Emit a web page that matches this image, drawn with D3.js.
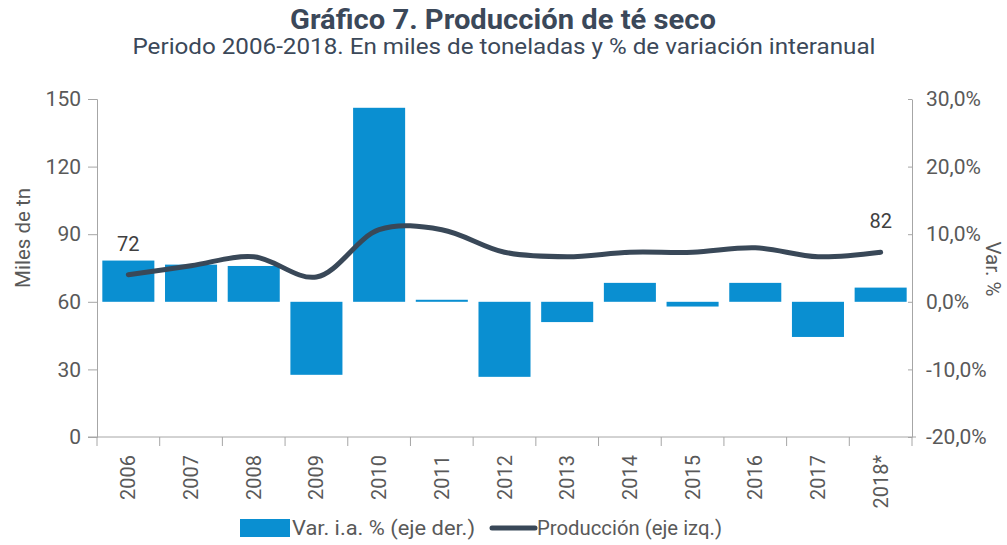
<!DOCTYPE html>
<html><head><meta charset="utf-8">
<script src="https://cdn.jsdelivr.net/npm/d3@7"></script>
<style>body{margin:0;background:#fff;} svg{display:block;font-family:Roboto, "Open Sans", sans-serif;}</style>
</head><body>
<svg id="chart" width="1007" height="545"></svg>
<script>
const categories = ["2006","2007","2008","2009","2010","2011","2012","2013","2014","2015","2016","2017","2018*"];
const variation = [6.1, 5.5, 5.3, -10.8, 28.7, 0.3, -11.1, -3.0, 2.8, -0.7, 2.8, -5.2, 2.1];
const production = [72, 76, 80, 71, 92, 92, 82, 80, 82, 82, 84, 80, 82];
const leftTicks = [0, 30, 60, 90, 120, 150];
const rightTicks = [-20, -10, 0, 10, 20, 30];
const labelled = {"2006": 72, "2018*": 82};

const svg = d3.select("#chart");
const L = 97, R = 912, T = 99, B = 437;
const textCol = "#595959", axisCol = "#a6a6a6", barCol = "#0a8fd1", lineCol = "#394858";

const x = d3.scaleBand().domain(categories).range([L, R]).paddingInner(0.17).paddingOuter(0.085);
const yL = d3.scaleLinear().domain([0, 150]).range([B, T]);
const yR = d3.scaleLinear().domain([-20, 30]).range([B, T]);

// Title
svg.append("text").attr("x", 503).attr("y", 29).attr("text-anchor", "middle")
  .attr("font-size", 27).attr("font-weight", "bold").attr("fill", "#3b4859")
  .attr("textLength", 426).attr("lengthAdjust", "spacingAndGlyphs")
  .text("Gráfico 7. Producción de té seco");
svg.append("text").attr("x", 504).attr("y", 54).attr("text-anchor", "middle")
  .attr("font-size", 21.5).attr("fill", "#3b4859")
  .attr("textLength", 743).attr("lengthAdjust", "spacingAndGlyphs")
  .text("Periodo 2006-2018. En miles de toneladas y % de variación interanual");

// Bars
svg.append("g").selectAll("rect").data(categories).join("rect")
  .attr("x", d => x(d))
  .attr("width", x.bandwidth())
  .attr("y", (d, i) => yR(Math.max(0, variation[i])))
  .attr("height", (d, i) => Math.abs(yR(variation[i]) - yR(0)))
  .attr("fill", barCol);

// Left axis
const gL = svg.append("g").attr("transform", `translate(${L},0)`)
  .call(d3.axisLeft(yL).tickValues(leftTicks).tickSize(9).tickPadding(7));
// Right axis
const fmtR = d => d3.format(".1f")(d).replace(".", ",").replace("\u2212", "-") + "%";
const gR = svg.append("g").attr("transform", `translate(${R},0)`)
  .call(d3.axisRight(yR).tickValues(rightTicks).tickFormat(fmtR).tickSize(0).tickPadding(14));
gR.selectAll(".tick").append("line").attr("x1", -4).attr("x2", 0).attr("stroke", axisCol);
// Bottom axis
const bounds = categories.map(c => x(c) - x.step() * x.paddingInner() / 2).concat([R]);
const gB = svg.append("g");
gB.append("line").attr("x1", L - 9).attr("x2", R + 4).attr("y1", B).attr("y2", B).attr("stroke", axisCol);
gB.selectAll("line.t").data(bounds).join("line").attr("class", "t")
  .attr("x1", d => d).attr("x2", d => d).attr("y1", B).attr("y2", B + 9).attr("stroke", axisCol);
gB.selectAll("text").data(categories).join("text")
  .attr("transform", d => `translate(${x(d) + x.bandwidth() / 2 + 7},${B + 18}) rotate(-90)`)
  .attr("text-anchor", "end").attr("font-size", 20).attr("fill", textCol).text(d => d);

[gL, gR].forEach(g => {
  g.select(".domain").attr("stroke", axisCol);
  g.selectAll(".tick line").attr("stroke", axisCol);
  g.selectAll(".tick text").attr("font-size", 21).attr("fill", textCol).attr("font-family", "Roboto, sans-serif");
});

// Axis titles
svg.append("text").attr("transform", "translate(30,238) rotate(-90)").attr("text-anchor", "middle")
  .attr("font-size", 20.5).attr("fill", textCol).text("Miles de tn");
svg.append("text").attr("transform", "translate(986,269) rotate(90)").attr("text-anchor", "middle")
  .attr("font-size", 20.5).attr("fill", textCol).text("Var. %");

// Line
const line = d3.line().x((d, i) => x(categories[i]) + x.bandwidth() / 2).y(d => yL(d)).curve(d3.curveCatmullRom.alpha(0.5));
svg.append("path").datum(production).attr("d", line).attr("fill", "none")
  .attr("stroke", lineCol).attr("stroke-width", 5).attr("stroke-linecap", "round");

// Data labels
categories.forEach((c, i) => {
  if (labelled[c] !== undefined) {
    svg.append("text").attr("x", x(c) + x.bandwidth() / 2).attr("y", yL(production[i]) - 24)
      .attr("text-anchor", "middle").attr("font-size", 20).attr("fill", "#404040").text(labelled[c]);
  }
});

// Legend
const lg = svg.append("g");
lg.append("rect").attr("x", 240).attr("y", 519).attr("width", 50).attr("height", 18).attr("fill", barCol);
lg.append("text").attr("x", 292).attr("y", 535).attr("font-size", 21).attr("fill", textCol)
  .attr("textLength", 183).attr("lengthAdjust", "spacingAndGlyphs").text("Var. i.a. % (eje der.)");
lg.append("line").attr("x1", 492).attr("x2", 535).attr("y1", 528).attr("y2", 528)
  .attr("stroke", lineCol).attr("stroke-width", 5).attr("stroke-linecap", "round");
lg.append("text").attr("x", 537).attr("y", 535).attr("font-size", 21).attr("fill", textCol)
  .attr("textLength", 185).attr("lengthAdjust", "spacingAndGlyphs").text("Producción (eje izq.)");
</script>
</body></html>
